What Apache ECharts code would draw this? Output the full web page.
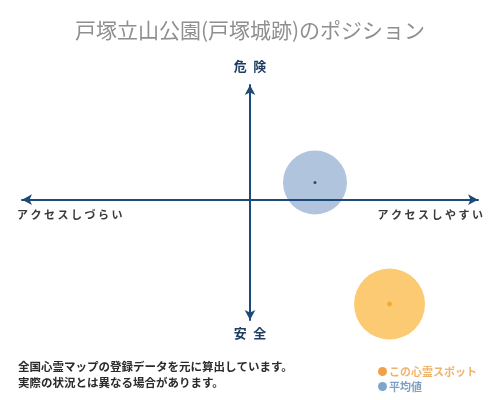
<!DOCTYPE html>
<html><head><meta charset="utf-8">
<script src="https://cdn.jsdelivr.net/npm/echarts@6/dist/echarts.min.js"></script>
<style>html,body{margin:0;padding:0;background:#fff}#c{width:500px;height:400px}</style>
</head><body><div id="c"></div>
<script>
const title = '戸塚立山公園(戸塚城跡)のポジション';
const seriesNames = ['この心霊スポット', '平均値'];
const spotPoint = [[61.2, -91.1]];
const avgPoint = [[28.5, 14.9]];
const axisLabels = { top: '危\u2002険', bottom: '安\u2002全', left: 'ア ク セ ス し づ ら い', right: 'ア ク セ ス し や す い' };
const noteLines = ['全国心霊マップの登録データを元に算出しています。', '実際の状況とは異なる場合があります。'];

const FONT = '"Noto Sans CJK JP", sans-serif';
const NAVY = '#1d4a78';
const chart = echarts.init(document.getElementById('c'));
chart.setOption({
  animation: false,
  backgroundColor: '#fff',
  title: {
    text: title, left: 'center', top: 15,
    textStyle: { fontFamily: FONT, fontSize: 21, fontWeight: 'normal', color: '#8f8f8f' }
  },
  grid: { left: 22, right: 22, top: 85, bottom: 80 },
  xAxis: {
    type: 'value', min: -100, max: 100, z: 10,
    axisLine: { onZero: true, symbol: ['arrow', 'arrow'], symbolSize: [8, 10], lineStyle: { color: NAVY, width: 2 } },
    axisTick: { show: false }, axisLabel: { show: false }, splitLine: { show: false }
  },
  yAxis: {
    type: 'value', min: -105, max: 100, z: 10,
    axisLine: { onZero: true, symbol: ['arrow', 'arrow'], symbolSize: [8, 10], lineStyle: { color: NAVY, width: 2 } },
    axisTick: { show: false }, axisLabel: { show: false }, splitLine: { show: false }
  },
  legend: {
    orient: 'vertical', left: 373, top: 361, itemGap: 4, itemWidth: 9, itemHeight: 9,
    icon: 'circle',
    data: [
      { name: seriesNames[0], itemStyle: { color: '#f2a044' }, textStyle: { color: '#f0b36c' } },
      { name: seriesNames[1], itemStyle: { color: '#7ea6c8' }, textStyle: { color: '#7ea0c4' } }
    ],
    textStyle: { fontFamily: FONT, fontSize: 11, fontWeight: 'bold', padding: [0, 0, 0, -3] }
  },
  series: [
    { name: seriesNames[1], type: 'scatter', data: avgPoint, symbolSize: 64, z: 2,
      itemStyle: { color: '#b0c4de', opacity: 1 }, silent: true },
    { name: seriesNames[0], type: 'scatter', data: spotPoint, symbolSize: 71, z: 2,
      itemStyle: { color: '#fdca74', opacity: 1 }, silent: true },
    { name: 'avgDot', type: 'scatter', data: avgPoint, symbolSize: 3, z: 20,
      itemStyle: { color: '#1a2a3a' }, silent: true },
    { name: 'spotDot', type: 'scatter', data: spotPoint, symbol: 'diamond', symbolSize: 6, z: 20,
      itemStyle: { color: '#f5a014' }, silent: true }
  ],
  graphic: [
    { type: 'text', left: 'center', top: 60, style: { text: axisLabels.top, font: 'bold 13px ' + FONT, fill: '#1f3d63' } },
    { type: 'text', left: 'center', top: 327, style: { text: axisLabels.bottom, font: 'bold 13px ' + FONT, fill: '#1f3d63' } },
    { type: 'text', left: 17, top: 209, style: { text: axisLabels.left, font: 'bold 11px ' + FONT, fill: '#3a3a3a' } },
    { type: 'text', right: 17, top: 209, style: { text: axisLabels.right, font: 'bold 11px ' + FONT, fill: '#3a3a3a' } },
    { type: 'text', left: 18, top: 361, style: { text: noteLines[0], font: 'bold 11.5px ' + FONT, fill: '#2b2b2b' } },
    { type: 'text', left: 18, top: 377, style: { text: noteLines[1], font: 'bold 11.5px ' + FONT, fill: '#2b2b2b' } }
  ]
});
</script></body></html>
